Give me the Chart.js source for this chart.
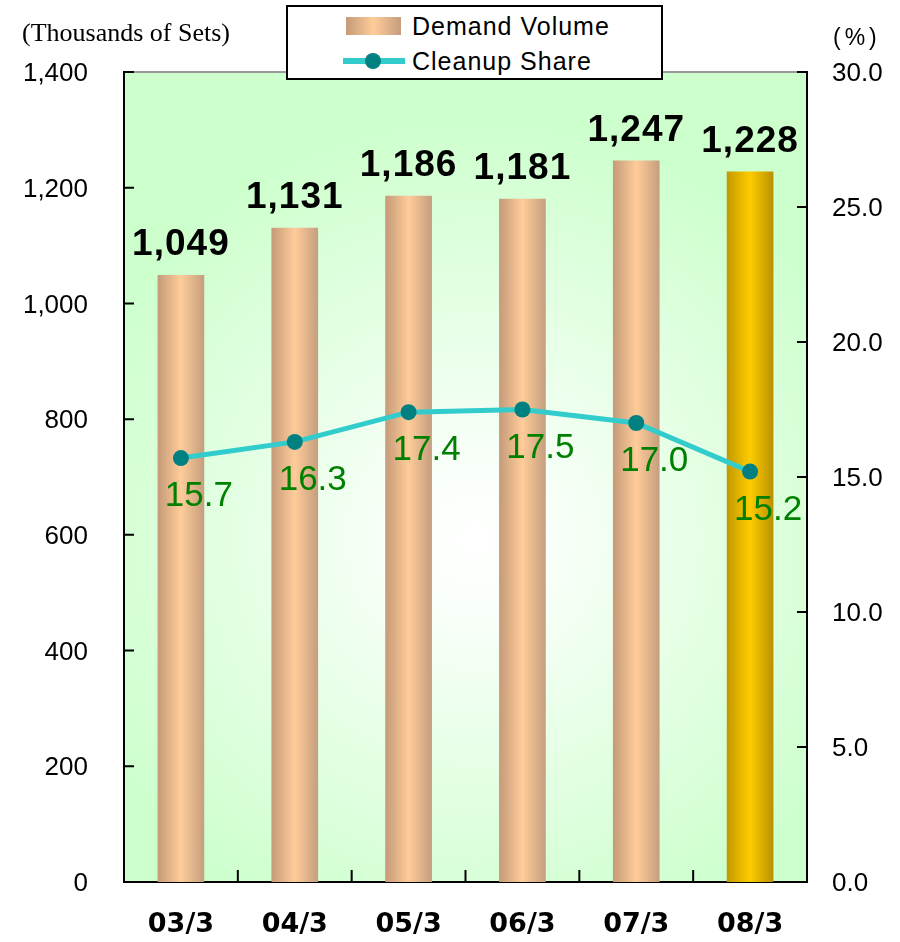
<!DOCTYPE html>
<html>
<head>
<meta charset="utf-8">
<script src="https://cdn.jsdelivr.net/npm/chart.js@4.4.1/dist/chart.umd.min.js"></script>
<style>
  body { margin: 0; background: #fff; }
  #wrap { position: relative; width: 900px; height: 942px; }
  #unitLeft {
    position: absolute; left: 22px; top: 18px;
    font: 26px "Liberation Serif", "Times New Roman", serif; color: #000;
  }
  #unitRight {
    position: absolute; left: 833px; top: 24px; letter-spacing: 4px;
    font: 23px "Liberation Sans", Arial, sans-serif; color: #000;
  }
  #legend {
    position: absolute; left: 286px; top: 5px; width: 373px; height: 71px;
    border: 2px solid #000; background: #fff;
    font: 25px "Liberation Sans", Arial, sans-serif; letter-spacing: 1px; color: #000;
  }
  #legend .sw-bar {
    position: absolute; left: 58px; top: 10px; width: 55px; height: 18px;
    background: linear-gradient(to right, #c49a78, #ffcc99 50%, #c49e7e);
  }
  #legend .sw-line {
    position: absolute; left: 55px; top: 51px; width: 62px; height: 6px; background: #33cccc;
  }
  #legend .sw-dot {
    position: absolute; left: 77px; top: 46px; width: 16px; height: 16px;
    border-radius: 50%; background: #008080;
  }
  #legend .txt { position: absolute; left: 124px; line-height: 30px; }
</style>
</head>
<body>
<div id="wrap">
  <canvas id="demandChart" width="900" height="942"></canvas>
  <div id="unitLeft">(Thousands of Sets)</div>
  <div id="unitRight">(%)</div>
  <div id="legend">
    <div class="sw-bar"></div><div class="txt" style="top:4px">Demand Volume</div>
    <div class="sw-line"></div><div class="sw-dot"></div><div class="txt" style="top:39px">Cleanup Share</div>
  </div>
</div>
<script>
  const years = ["03/3", "04/3", "05/3", "06/3", "07/3", "08/3"];
  const demandVolume = [1049, 1131, 1186, 1181, 1247, 1228];
  const cleanupShare = [15.7, 16.3, 17.4, 17.5, 17.0, 15.2];
  const leftAxis = { min: 0, max: 1400, step: 200 };
  const rightAxis = { min: 0, max: 30, step: 5 };

  const barPct = 0.41;

  function barFill(c) {
    const chart = c.chart;
    const xs = chart.scales.x;
    if (!xs || c.dataIndex === undefined) return "#ffcc99";
    const cx = xs.getPixelForValue(c.dataIndex);
    const w = (xs.width / years.length) * barPct;
    if (!isFinite(cx) || !isFinite(w) || w <= 0) return "#ffcc99";
    const g = chart.ctx.createLinearGradient(cx - w / 2, 0, cx + w / 2, 0);
    if (c.dataIndex === years.length - 1) {
      g.addColorStop(0, "#c29800");
      g.addColorStop(0.5, "#ffcc00");
      g.addColorStop(1, "#b89000");
    } else {
      g.addColorStop(0, "#c49a78");
      g.addColorStop(0.5, "#ffcc99");
      g.addColorStop(1, "#c49e7e");
    }
    return g;
  }

  const decor = {
    id: "decor",
    beforeDraw(chart) {
      const { ctx, chartArea: a } = chart;
      ctx.save();
      const g = ctx.createRadialGradient(475, 540, 0, 475, 540, 430);
      g.addColorStop(0, "#ffffff");
      g.addColorStop(0.15, "#fafffa");
      g.addColorStop(1, "#ccffcc");
      ctx.fillStyle = g;
      ctx.fillRect(a.left, a.top, a.right - a.left, a.bottom - a.top);
      ctx.restore();
    },
    afterDatasetsDraw(chart) {
      const ctx = chart.ctx;
      ctx.save();
      // bar values
      ctx.font = "bold 37px 'Liberation Sans', Arial, sans-serif";
      ctx.letterSpacing = "1px";
      ctx.textAlign = "center";
      ctx.textBaseline = "alphabetic";
      ctx.fillStyle = "#000";
      chart.getDatasetMeta(0).data.forEach((b, i) => {
        ctx.fillText(demandVolume[i].toLocaleString("en-US"), b.x, b.y - 20);
      });
      // share values
      ctx.font = "35px 'Liberation Sans', Arial, sans-serif";
      ctx.letterSpacing = "0px";
      ctx.fillStyle = "#008000";
      chart.getDatasetMeta(1).data.forEach((p, i) => {
        ctx.fillText(cleanupShare[i].toFixed(1), p.x + 18, p.y + 48);
      });
      ctx.restore();
    },
    afterDraw(chart) {
      const { ctx, chartArea: a, scales } = chart;
      ctx.save();
      ctx.strokeStyle = "#999";
      ctx.lineWidth = 2;
      ctx.beginPath();
      ctx.moveTo(a.left, a.top);
      ctx.lineTo(a.right, a.top);
      ctx.stroke();
      ctx.strokeStyle = "#000";
      ctx.lineWidth = 2;
      ctx.beginPath();
      for (let v = leftAxis.min; v <= leftAxis.max; v += leftAxis.step) {
        const y = scales.y.getPixelForValue(v);
        ctx.moveTo(a.left, y);
        ctx.lineTo(a.left + 10, y);
      }
      for (let v = rightAxis.min; v <= rightAxis.max; v += rightAxis.step) {
        const y = scales.y1.getPixelForValue(v);
        ctx.moveTo(a.right, y);
        ctx.lineTo(a.right - 10, y);
      }
      for (let i = 1; i < years.length; i++) {
        const x = scales.x.getPixelForValue(i - 0.5);
        ctx.moveTo(x, a.bottom);
        ctx.lineTo(x, a.bottom - 12);
      }
      ctx.stroke();
      ctx.restore();
    },
  };

  const ctx = document.getElementById("demandChart");

  new Chart(ctx, {
    type: "bar",
    data: {
      labels: years,
      datasets: [
        {
          type: "bar",
          label: "Demand Volume",
          data: demandVolume,
          backgroundColor: barFill,
          borderWidth: 0,
          barPercentage: barPct,
          categoryPercentage: 1,
          yAxisID: "y",
          order: 2,
        },
        {
          type: "line",
          label: "Cleanup Share",
          data: cleanupShare,
          borderColor: "#33cccc",
          borderWidth: 5,
          pointBackgroundColor: "#008080",
          pointBorderColor: "#008080",
          pointBorderWidth: 0,
          pointRadius: 8,
          tension: 0,
          yAxisID: "y1",
          order: 1,
        },
      ],
    },
    plugins: [decor],
    options: {
      responsive: false,
      animation: false,
      layout: { padding: { top: 72, left: 0, right: 0, bottom: 0 } },
      plugins: {
        legend: { display: false },
        tooltip: { enabled: false },
      },
      scales: {
        x: {
          z: 1,
          grid: { display: false, drawTicks: false },
          border: { display: true, color: "#000", width: 2 },
          ticks: {
            color: "#000",
            padding: 27,
            font: { family: "'DejaVu Sans', sans-serif", size: 27, weight: "bold" },
          },
          afterFit(s) { s.height = 60; },
        },
        y: {
          position: "left",
          min: leftAxis.min,
          max: leftAxis.max,
          grid: { display: false, drawTicks: false },
          border: { display: true, color: "#000", width: 2 },
          ticks: {
            stepSize: leftAxis.step,
            color: "#000",
            padding: 36,
            labelOffset: 2,
            font: { family: "'Liberation Sans', Arial, sans-serif", size: 26 },
          },
          afterFit(s) { s.width = 124; },
        },
        y1: {
          position: "right",
          min: rightAxis.min,
          max: rightAxis.max,
          grid: { display: false, drawTicks: false },
          border: { display: true, color: "#000", width: 2 },
          ticks: {
            stepSize: rightAxis.step,
            color: "#000",
            padding: 25,
            labelOffset: 2,
            font: { family: "'Liberation Sans', Arial, sans-serif", size: 26 },
            callback: (v) => Number(v).toFixed(1),
          },
          afterFit(s) { s.width = 93; },
        },
      },
    },
  });
</script>
</body>
</html>
